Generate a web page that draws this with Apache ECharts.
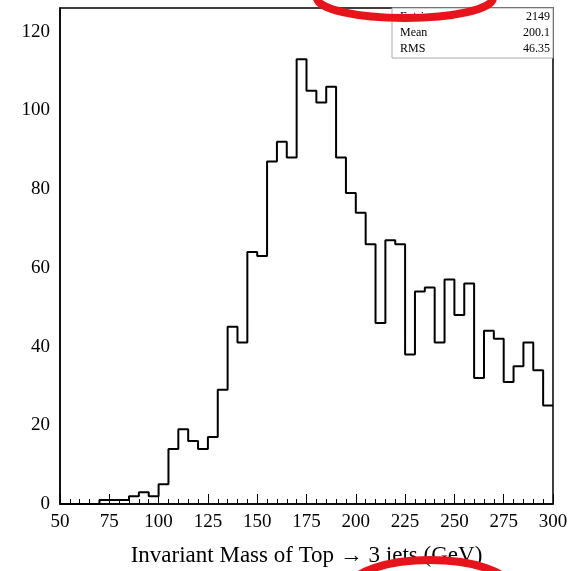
<!DOCTYPE html>
<html><head><meta charset="utf-8">
<script src="https://cdn.jsdelivr.net/npm/echarts@6/dist/echarts.min.js"></script>
<style>html,body{margin:0;background:#fff}#c{width:574px;height:571px}</style>
</head><body><div id="c"></div>
<script>
// bin edges (GeV), 5 GeV wide
const binLow = [];
for (let x = 50; x < 300; x += 5) binLow.push(x);
const counts = [0,0,0,0,1,1,1,2,3,2,5,14,19,16,14,17,29,45,41,64,
  63,87,92,88,113,105,102,106,88,79,74,66,46,67,66,38,54,55,41,57,
  48,56,32,44,42,31,35,41,34,25];
const statNames = ['Entries', 'Mean', 'RMS'];
const statValues = ['2149', '200.1', '46.35'];

const chart = echarts.init(document.getElementById('c'));
const data = binLow.map((x, i) => [x, counts[i]]);
data.push([300, counts[counts.length - 1]]);
const font = '"Liberation Serif", "DejaVu Serif", serif';

chart.setOption({
  animation: false,
  grid: { left: 60, right: 21, top: 8, bottom: 67, outerBoundsMode: 'none', containLabel: false },
  xAxis: {
    type: 'value', min: 50, max: 300, interval: 25,
    name: 'Invariant Mass of Top → 3 jets (GeV)', nameLocation: 'middle', nameGap: 40,
    nameTextStyle: { fontFamily: font, fontSize: 23, color: '#000' },
    axisLine: { lineStyle: { color: '#000', width: 1.5 } },
    axisTick: { inside: true, length: 10, lineStyle: { color: '#000' } },
    minorTick: { show: true, splitNumber: 5, length: 5, lineStyle: { color: '#000' } },
    axisLabel: { fontFamily: font, fontSize: 19, color: '#000', margin: 9 },
    splitLine: { show: false }
  },
  yAxis: {
    type: 'value', min: 0, max: 126, interval: 20,
    axisLine: { show: true, lineStyle: { color: '#000', width: 1.5 } },
    axisTick: { show: false },
    axisLabel: { fontFamily: font, fontSize: 19, color: '#000', margin: 10, showMaxLabel: false },
    splitLine: { show: false }
  },
  graphic: [
    { type: 'rect', shape: { x: 60, y: 8, width: 493, height: 496 }, style: { fill: 'none', stroke: '#000', lineWidth: 1.5 }, silent: true },
    { type: 'rect', shape: { x: 392, y: 8, width: 161, height: 50 }, style: { fill: '#fff', stroke: '#aaa', lineWidth: 1 }, z: 10 },
    ...statNames.map((n, i) => ({ type: 'text', left: 400, top: 11 + i * 16, z: 11,
      style: { text: n, font: '12px ' + font, fill: '#000' } })),
    ...statValues.map((v, i) => ({ type: 'text', right: 24, top: 11 + i * 16, z: 11,
      style: { text: v, font: '12px ' + font, fill: '#000' } })),
    { type: 'ellipse', shape: { cx: 405, cy: -2, rx: 88, ry: 20 }, style: { fill: 'none', stroke: '#e8141b', lineWidth: 8 }, z: 20 },
    { type: 'ellipse', shape: { cx: 430, cy: 588, rx: 80, ry: 28 }, style: { fill: 'none', stroke: '#e8141b', lineWidth: 8 }, z: 20 }
  ],
  series: [{
    type: 'line', step: 'end', data, symbol: 'none',
    lineStyle: { color: '#000', width: 2 }
  }]
});
</script></body></html>
